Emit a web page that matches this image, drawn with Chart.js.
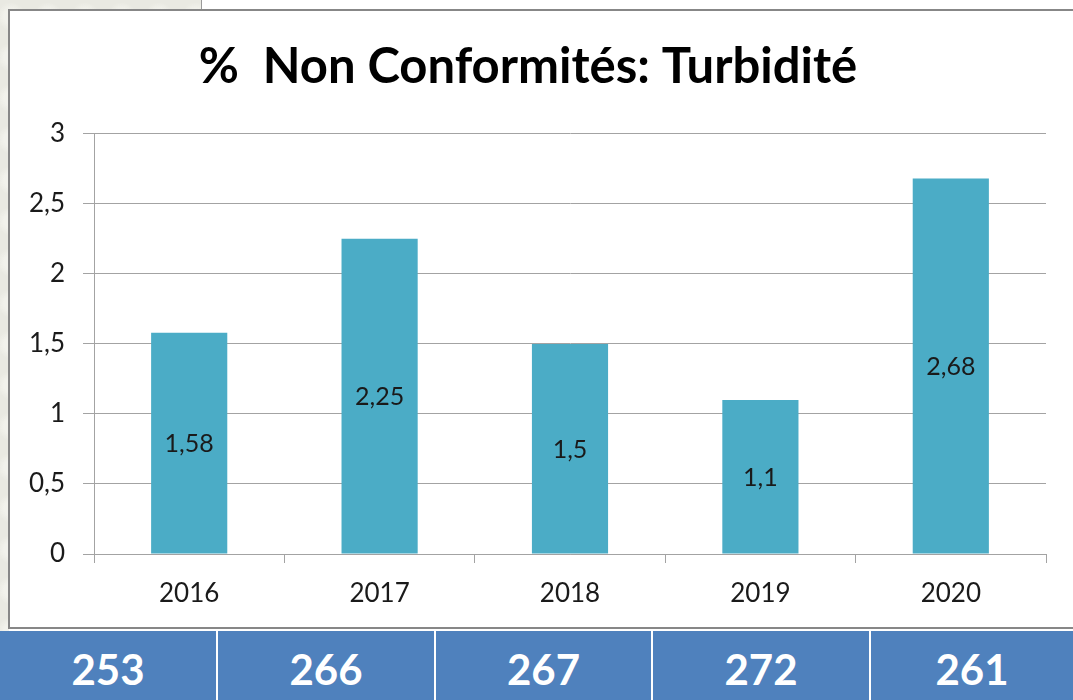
<!DOCTYPE html>
<html>
<head>
<meta charset="utf-8">
<script src="https://cdn.jsdelivr.net/npm/chart.js@4.4.1/dist/chart.umd.min.js"></script>
<style>
  html, body { margin: 0; padding: 0; }
  body { width: 1073px; height: 700px; position: relative; overflow: hidden; background: #ffffff; font-family: Lato, "Open Sans", sans-serif; }
  .tex { position: absolute; background: #e9e9e2;
    background-image: radial-gradient(circle at 30% 40%, #f2f2ec 0 20%, transparent 40%), radial-gradient(circle at 70% 80%, #dcdcd2 0 10%, transparent 30%);
    background-size: 37px 41px, 53px 29px; }
  #texTop { left: 0; top: 0; width: 201px; height: 10px; }
  #texTopLine { position: absolute; left: 201px; top: 0; width: 1px; height: 10px; background: #9a9a9a; }
  #texLeft { left: 0; top: 0; width: 9px; height: 700px; }
  #frame { position: absolute; left: 8px; top: 9px; width: 1080px; height: 616px; border: 2px solid #878787; background: #ffffff; }
  #wrap { position: absolute; left: 0; top: 0; width: 1073px; height: 629px; }
  #table { position: absolute; left: 0; top: 631px; width: 1073px; height: 69px; display: flex; background: #ffffff; }
  #table div { background: #4f81bd; color: #ffffff; font-weight: 700; font-size: 42px; display: flex; align-items: center; justify-content: center; padding-top: 6px; box-sizing: border-box; height: 69px; }
</style>
</head>
<body>
<div class="tex" id="texLeft"></div>
<div class="tex" id="texTop"></div>
<div id="texTopLine"></div>
<div id="frame"></div>
<div id="wrap"><canvas id="c" width="1073" height="629"></canvas></div>
<div id="table"></div>
<script>
const chartTitle = "%  Non Conformités: Turbidité";
const years = ["2016", "2017", "2018", "2019", "2020"];
const nonConformPct = [1.58, 2.25, 1.5, 1.1, 2.68];
const tableCounts = [253, 266, 267, 272, 261];
const yTicks = [0, 0.5, 1, 1.5, 2, 2.5, 3];

const cellWidths = [216, 216, 215, 216, 202];
const tbl = document.getElementById('table');
tableCounts.forEach((v, i) => {
  const d = document.createElement('div');
  d.style.width = cellWidths[i] + 'px';
  d.style.marginRight = i < tableCounts.length - 1 ? '2px' : '0';
  d.textContent = String(v);
  tbl.appendChild(d);
});

const fmt = v => String(v).replace('.', ',');

const barLabels = {
  id: 'barLabels',
  afterDatasetsDraw(chart) {
    const ctx = chart.ctx;
    const meta = chart.getDatasetMeta(0);
    ctx.save();
    ctx.font = '25px Lato';
    ctx.fillStyle = '#1a1a1a';
    ctx.textAlign = 'center';
    ctx.textBaseline = 'middle';
    meta.data.forEach((bar, i) => {
      const p = bar.getProps(['x', 'y', 'base'], true);
      ctx.fillText(fmt(nonConformPct[i]), p.x, (p.y + p.base) / 2 + 1);
    });
    ctx.restore();
  }
};

const gridColor = '#a3a3a3';
new Chart(document.getElementById('c'), {
  type: 'bar',
  data: {
    labels: years,
    datasets: [{
      data: nonConformPct,
      backgroundColor: '#4bacc6',
      borderWidth: 0,
      barPercentage: 0.40,
      categoryPercentage: 1.0
    }]
  },
  options: {
    responsive: false,
    animation: false,
    devicePixelRatio: 1,
    layout: { padding: { left: 10, right: 27, top: 0, bottom: 0 } },
    plugins: {
      legend: { display: false },
      tooltip: { enabled: false },
      title: {
        display: true,
        text: chartTitle,
        color: '#000000',
        font: { family: 'Lato', size: 49, weight: 'bold', lineHeight: 1.2 },
        padding: { top: 38, bottom: 37 }
      }
    },
    scales: {
      x: {
        grid: { display: true, drawOnChartArea: false, drawTicks: true, tickLength: 9, color: gridColor, offset: true },
        border: { display: true, color: gridColor, width: 1 },
        ticks: { color: '#1a1a1a', font: { family: 'Lato', size: 26 }, padding: 15, maxRotation: 0 },
        afterFit(scale) { scale.height = 75; }
      },
      y: {
        min: 0, max: 3,
        afterBuildTicks(scale) { scale.ticks = yTicks.map(v => ({ value: v })); },
        grid: { color: gridColor, drawTicks: true, tickLength: 11 },
        border: { display: true, color: gridColor, width: 1 },
        ticks: { color: '#1a1a1a', font: { family: 'Lato', size: 26 }, padding: 18, callback: v => fmt(v) },
        afterFit(scale) { scale.width = 84; }
      }
    }
  },
  plugins: [barLabels]
});
</script>
</body>
</html>
